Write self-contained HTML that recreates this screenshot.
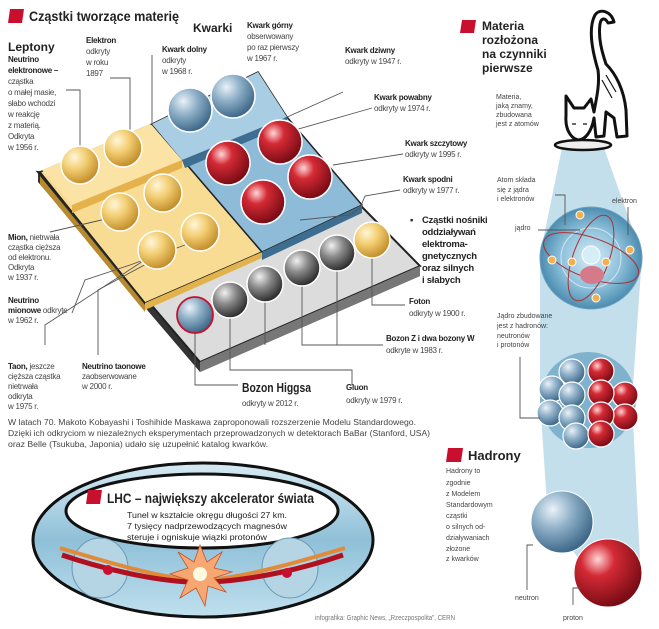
<!DOCTYPE html>
<html><head><meta charset="utf-8"><style>
html,body{margin:0;padding:0;background:#fff;width:659px;height:629px;overflow:hidden}
svg{display:block;font-family:"Liberation Sans",sans-serif}
.b{font-weight:bold;fill:#222}
.t{fill:#444}
.l{stroke:#555;stroke-width:0.9;fill:none}
.sm{letter-spacing:-0.25px}
</style></head><body>
<svg width="659" height="629" viewBox="0 0 659 629" xmlns="http://www.w3.org/2000/svg">
<defs>
<radialGradient id="gy" cx="35%" cy="30%" r="70%"><stop offset="0" stop-color="#fff6d8"/><stop offset="0.45" stop-color="#f3cf74"/><stop offset="1" stop-color="#c48f2c"/></radialGradient>
<radialGradient id="gb" cx="35%" cy="30%" r="70%"><stop offset="0" stop-color="#eaf2f8"/><stop offset="0.45" stop-color="#8fb0c8"/><stop offset="1" stop-color="#3f6a8a"/></radialGradient>
<radialGradient id="gr" cx="35%" cy="30%" r="70%"><stop offset="0" stop-color="#ffd6d6"/><stop offset="0.35" stop-color="#d42a35"/><stop offset="1" stop-color="#7a0c15"/></radialGradient>
<radialGradient id="gg" cx="35%" cy="30%" r="70%"><stop offset="0" stop-color="#f0f0f0"/><stop offset="0.45" stop-color="#8a8a8a"/><stop offset="1" stop-color="#2e2e2e"/></radialGradient>
<radialGradient id="ga" cx="50%" cy="50%" r="50%"><stop offset="0" stop-color="#d8ecf5"/><stop offset="0.6" stop-color="#8cc0da"/><stop offset="1" stop-color="#4c8cb0"/></radialGradient>
<linearGradient id="ring" x1="0" y1="0" x2="0" y2="1"><stop offset="0" stop-color="#d6eaf4"/><stop offset="0.5" stop-color="#8fc0d8"/><stop offset="1" stop-color="#bfe0ee"/></linearGradient>
</defs>

<path d="M10,9 L24,9 L22,23 L8,23 Z" fill="#c8102e"/>
<text x="29" y="21" class="b" font-size="14" textLength="150" lengthAdjust="spacingAndGlyphs">Cząstki tworzące  materię</text>

<polygon points="38,182 200,372 420,276 420,266 200,362 38,172" fill="#333"/>
<polygon points="38,172 200,362 420,266 362,207" fill="#dcdcdc" stroke="#222" stroke-width="2"/>
<polygon points="200,362 420,266 420,276 200,372" fill="#777"/>
<polygon points="40,176 145,305 145,312 40,184" fill="#b78a2e"/>
<polygon points="40,172 152,124 262,252 145,303" fill="#f9dc93" stroke="#222" stroke-width="1.5"/>
<polygon points="145,303 262,252 262,258 145,310" fill="#e2b24c"/>
<polygon points="42,170 150,124 182,160 72,205" fill="#fae3a5"/>
<polygon points="72,205 182,160 182,168 72,213" fill="#e5b14a"/>
<polygon points="152,124 258,72 287,117 362,205 262,252" fill="#8ebcd8" stroke="#222" stroke-width="1.5"/>
<polygon points="262,252 362,205 362,213 262,260" fill="#3d6d90"/>
<polygon points="152,124 258,72 287,117 182,160" fill="#a9cde2"/>
<polygon points="182,160 287,117 287,125 185,168" fill="#3d6d90"/>

<path class="l" d="M66,90 L80,90 L80,150"/>
<path class="l" d="M110,78 L130,78 L130,130"/>
<path class="l" d="M152,55 L152,125"/>
<path class="l" d="M285,118 L343,92"/>
<path class="l" d="M295,130 L372,108"/>
<path class="l" d="M333,165 L403,154"/>
<path class="l" d="M300,220 L350,215 L360,208 L365,196 L400,190"/>
<path class="l" d="M50,232 L110,218"/>
<path class="l" d="M72,313 L85,280 L130,265 L185,245"/>
<path class="l" d="M45,345 L45,325 L160,250"/>
<path class="l" d="M98,355 L98,290 L150,262"/>
<path class="l" d="M372,258 L372,305 L405,305"/>
<path class="l" d="M302,268 L302,345 L383,345"/>
<path class="l" d="M337,253 L337,345"/>
<path class="l" d="M265,283 L265,345"/>
<path class="l" d="M230,300 L230,370 L352,370 L352,385"/>
<path class="l" d="M195,315 L195,385 L238,385"/>

<g stroke="#fff" stroke-width="1.5">
<circle cx="80" cy="165" r="19" fill="url(#gy)"/>
<circle cx="123" cy="148" r="19" fill="url(#gy)"/>
<circle cx="120" cy="212" r="19" fill="url(#gy)"/>
<circle cx="163" cy="193" r="19" fill="url(#gy)"/>
<circle cx="157" cy="250" r="19" fill="url(#gy)"/>
<circle cx="200" cy="232" r="19" fill="url(#gy)"/>
<circle cx="190" cy="110" r="22" fill="url(#gb)"/>
<circle cx="233" cy="96" r="22" fill="url(#gb)"/>
<circle cx="280" cy="142" r="22" fill="url(#gr)"/>
<circle cx="228" cy="163" r="22" fill="url(#gr)"/>
<circle cx="310" cy="177" r="22" fill="url(#gr)"/>
<circle cx="263" cy="202" r="22" fill="url(#gr)"/>
<circle cx="230" cy="300" r="18" fill="url(#gg)"/>
<circle cx="265" cy="284" r="18" fill="url(#gg)"/>
<circle cx="302" cy="268" r="18" fill="url(#gg)"/>
<circle cx="337" cy="253" r="18" fill="url(#gg)"/>
<circle cx="372" cy="240" r="18" fill="url(#gy)"/>
</g>
<circle cx="195" cy="315" r="18" fill="url(#gb)" stroke="#c8102e" stroke-width="1.8"/>

<text x="8" y="51" class="b" font-size="12">Leptony</text>
<g font-size="8" class="sm">
<text x="8" y="62" class="b">Neutrino</text>
<text x="8" y="73" class="b">elektronowe –</text>
<text x="8" y="84" class="t">cząstka</text>
<text x="8" y="95" class="t">o małej masie,</text>
<text x="8" y="106" class="t">słabo wchodzi</text>
<text x="8" y="117" class="t">w reakcję</text>
<text x="8" y="128" class="t">z materią.</text>
<text x="8" y="139" class="t">Odkryta</text>
<text x="8" y="150" class="t">w 1956 r.</text>

<text x="86" y="43" class="b">Elektron</text>
<text x="86" y="54" class="t">odkryty</text>
<text x="86" y="65" class="t">w roku</text>
<text x="86" y="76" class="t">1897</text>

<text x="162" y="52" class="b">Kwark dolny</text>
<text x="162" y="63" class="t">odkryty</text>
<text x="162" y="74" class="t">w 1968 r.</text>

<text x="247" y="28" class="b">Kwark górny</text>
<text x="247" y="39" class="t">obserwowany</text>
<text x="247" y="50" class="t">po raz pierwszy</text>
<text x="247" y="61" class="t">w 1967 r.</text>

<text x="345" y="53" class="b">Kwark dziwny</text>
<text x="345" y="64" class="t">odkryty w 1947 r.</text>
<text x="374" y="100" class="b">Kwark powabny</text>
<text x="374" y="111" class="t">odkryty w 1974 r.</text>
<text x="405" y="146" class="b">Kwark szczytowy</text>
<text x="405" y="157" class="t">odkryty w 1995 r.</text>
<text x="403" y="182" class="b">Kwark spodni</text>
<text x="403" y="193" class="t">odkryty w 1977 r.</text>

<text x="8" y="240" class="b">Mion,<tspan class="t" font-weight="normal"> nietrwała</tspan></text>
<text x="8" y="250" class="t">cząstka cięższa</text>
<text x="8" y="260" class="t">od elektronu.</text>
<text x="8" y="270" class="t">Odkryta</text>
<text x="8" y="280" class="t">w 1937 r.</text>

<text x="8" y="303" class="b">Neutrino</text>
<text x="8" y="313" class="b">mionowe<tspan class="t" font-weight="normal"> odkryte</tspan></text>
<text x="8" y="323" class="t">w 1962 r.</text>

<text x="8" y="369" class="b">Taon,<tspan class="t" font-weight="normal"> jeszcze</tspan></text>
<text x="8" y="379" class="t">cięższa cząstka</text>
<text x="8" y="389" class="t">nietrwała</text>
<text x="8" y="399" class="t">odkryta</text>
<text x="8" y="409" class="t">w 1975 r.</text>

<text x="82" y="369" class="b">Neutrino taonowe</text>
<text x="82" y="379" class="t">zaobserwowane</text>
<text x="82" y="389" class="t">w 2000 r.</text>

<text x="409" y="304" class="b">Foton</text>
<text x="409" y="316" class="t">odkryty w 1900 r.</text>
<text x="386" y="341" class="b">Bozon  Z i dwa bozony W</text>
<text x="386" y="353" class="t">odkryte w 1983 r.</text>
<text x="346" y="390" class="b">Gluon</text>
<text x="346" y="403" class="t">odkryty w 1979 r.</text>
<text x="242" y="406" class="t">odkryty w  2012 r.</text>
</g>
<text x="242" y="392" class="b" font-size="13" textLength="69" lengthAdjust="spacingAndGlyphs">Bozon Higgsa</text>
<g font-size="9.5" class="b sm">
<text x="410" y="223">▪</text>
<text x="422" y="223">Cząstki nośniki</text>
<text x="422" y="235">oddziaływań</text>
<text x="422" y="247">elektroma-</text>
<text x="422" y="259">gnetycznych</text>
<text x="422" y="271">oraz silnych</text>
<text x="422" y="283">i słabych</text>
</g>
<text x="193" y="32" class="b" font-size="12">Kwarki</text>

<g font-size="8" class="t">
<text x="8" y="425" textLength="408" lengthAdjust="spacingAndGlyphs">W latach 70. Makoto Kobayashi i Toshihide Maskawa zaproponowali rozszerzenie Modelu Standardowego.</text>
<text x="8" y="436" textLength="422" lengthAdjust="spacingAndGlyphs">Dzięki ich odkryciom w niezależnych eksperymentach przeprowadzonych w detektorach BaBar (Stanford, USA)</text>
<text x="8" y="447" textLength="260" lengthAdjust="spacingAndGlyphs">oraz Belle (Tsukuba, Japonia) udało się  uzupełnić  katalog kwarków.</text>
</g>

<polygon points="562,148 604,148 642,255 632,400 640,560 600,585 548,520 540,400 540,255" fill="#c4dfec"/>
<path d="M566,96 L574,108 L584,108 L591,99 L594,112 C596,100 600,85 598,70 C592,50 588,28 595,15 C600,8 611,11 614,22 L608,23 C605,17 601,18 600,24 C598,38 602,52 606,64 C616,74 624,90 626,110 L627,136 L617,137 L614,118 L606,112 L604,136 L596,137 L594,118 C592,130 586,140 578,140 C570,138 565,128 566,116 Z" fill="#fff" stroke="#111" stroke-width="3" stroke-linejoin="round"/>
<path d="M572,124 L576,124 M583,124 L587,124 M602,80 L612,98 M606,75 L616,92" stroke="#111" stroke-width="1.2" fill="none"/>
<ellipse cx="583" cy="145" rx="28" ry="5" fill="#eee" stroke="#111" stroke-width="2.5"/>

<path d="M462,20 L476,20 L474,33 L460,33 Z" fill="#c8102e"/>
<g class="b" font-size="12">
<text x="482" y="30">Materia</text>
<text x="482" y="44">rozłożona</text>
<text x="482" y="58">na czynniki</text>
<text x="482" y="72">pierwsze</text>
</g>
<g font-size="7" class="t">
<text x="496" y="99">Materia,</text>
<text x="496" y="108">jaką znamy,</text>
<text x="496" y="117">zbudowana</text>
<text x="496" y="126">jest z atomów</text>
<text x="497" y="182">Atom składa</text>
<text x="497" y="192">się z jądra</text>
<text x="497" y="201">i elektronów</text>
<text x="612" y="203">elektron</text>
<text x="515" y="230">jądro</text>
<text x="497" y="318">Jądro zbudowane</text>
<text x="497" y="328">jest z hadronów:</text>
<text x="497" y="338">neutronów</text>
<text x="497" y="347">i protonów</text>
<text x="446" y="473">Hadrony to</text>
<text x="446" y="485">zgodnie</text>
<text x="446" y="496">z Modelem</text>
<text x="446" y="507">Standardowym</text>
<text x="446" y="518">cząstki</text>
<text x="446" y="529">o silnych od-</text>
<text x="446" y="540">działywaniach</text>
<text x="446" y="551">złożone</text>
<text x="446" y="561">z kwarków</text>
<text x="515" y="600">neutron</text>
<text x="563" y="620">proton</text>
</g>

<circle cx="591" cy="258" r="51" fill="url(#ga)" stroke="#6aa2c0"/>
<circle cx="591" cy="258" r="30" fill="none" stroke="#cfe6f1" stroke-width="1"/>
<ellipse cx="591" cy="258" rx="50" ry="20" fill="none" stroke="#a33" stroke-width="1" transform="rotate(20 591 258)"/>
<ellipse cx="591" cy="258" rx="45" ry="18" fill="none" stroke="#a33" stroke-width="1" transform="rotate(-70 591 258)"/>
<ellipse cx="592" cy="275" rx="12" ry="9" fill="#d47a8a"/>
<circle cx="591" cy="255" r="9" fill="#d6eef7" stroke="#fff"/>
<g fill="#f0b050" stroke="#fff"><circle cx="580" cy="215" r="4"/><circle cx="630" cy="250" r="4"/><circle cx="552" cy="260" r="4"/><circle cx="572" cy="262" r="4"/><circle cx="606" cy="262" r="4"/><circle cx="596" cy="298" r="4"/></g>
<path class="l" d="M555,195 L565,195 L565,225 M628,207 L628,235 M538,230 L580,230"/>

<circle cx="588" cy="400" r="48" fill="#7fb2cc"/>
<g stroke="#fff" stroke-width="1.2">
<circle cx="572" cy="372" r="13" fill="url(#gb)"/>
<circle cx="552" cy="389" r="13" fill="url(#gb)"/>
<circle cx="550" cy="413" r="13" fill="url(#gb)"/>
<circle cx="572" cy="395" r="13" fill="url(#gb)"/>
<circle cx="572" cy="418" r="13" fill="url(#gb)"/>
<circle cx="576" cy="436" r="13" fill="url(#gb)"/>
<circle cx="625" cy="395" r="13" fill="url(#gr)"/>
<circle cx="625" cy="417" r="13" fill="url(#gr)"/>
<circle cx="601" cy="371" r="13" fill="url(#gr)"/>
<circle cx="601" cy="393" r="13" fill="url(#gr)"/>
<circle cx="601" cy="415" r="13" fill="url(#gr)"/>
<circle cx="601" cy="434" r="13" fill="url(#gr)"/>
</g>
<path class="l" d="M520,357 L520,418 L540,418"/>

<circle cx="562" cy="522" r="31" fill="url(#gb)" stroke="#fff"/>
<circle cx="608" cy="573" r="34" fill="url(#gr)" stroke="#fff"/>
<path class="l" d="M527,590 L527,545 L533,545 M573,605 L573,588 L580,588"/>

<path d="M448,448 L463,448 L461,462 L446,462 Z" fill="#c8102e"/>
<text x="468" y="460" class="b" font-size="13">Hadrony</text>

<ellipse cx="203" cy="540" rx="170" ry="77" fill="url(#ring)" stroke="#111" stroke-width="3"/>
<ellipse cx="202" cy="511" rx="136" ry="37" fill="#fff" stroke="#111" stroke-width="3"/>
<ellipse cx="100" cy="568" rx="28" ry="30" fill="#b5d4e4" stroke="#6a9ab4"/>
<ellipse cx="290" cy="568" rx="28" ry="30" fill="#b5d4e4" stroke="#6a9ab4"/>
<path d="M60,548 C100,560 150,575 190,580" stroke="#e08a3a" stroke-width="4" fill="none"/>
<path d="M62,555 C100,568 150,580 190,582" stroke="#b01020" stroke-width="5" fill="none"/>
<path d="M345,548 C305,560 255,575 210,580" stroke="#e08a3a" stroke-width="4" fill="none"/>
<path d="M343,555 C305,568 255,580 210,582" stroke="#b01020" stroke-width="5" fill="none"/>
<circle cx="108" cy="570" r="5" fill="#c8102e"/>
<circle cx="287" cy="573" r="5" fill="#c8102e"/>
<polygon points="200,545 207,562 222,552 214,568 232,572 214,578 226,592 208,586 205,606 196,588 180,598 188,580 170,574 188,568 178,552 194,562" fill="#f7a872" stroke="#c8502a" stroke-width="0.8"/>
<circle cx="200" cy="574" r="7" fill="#fffbe0"/>
<path d="M88,490 L102,490 L100,504 L86,504 Z" fill="#c8102e"/>
<text x="107" y="503" class="b" font-size="14" textLength="207" lengthAdjust="spacingAndGlyphs">LHC – największy akcelerator świata</text>
<g font-size="8.5" fill="#222">
<text x="127" y="518" textLength="160" lengthAdjust="spacingAndGlyphs">Tunel w kształcie okręgu długości 27 km.</text>
<text x="127" y="529" textLength="160" lengthAdjust="spacingAndGlyphs">7 tysięcy nadprzewodzących magnesów</text>
<text x="127" y="540" textLength="140" lengthAdjust="spacingAndGlyphs">steruje i ogniskuje wiązki protonów</text>
</g>
<text x="315" y="620" font-size="7" fill="#777" textLength="140" lengthAdjust="spacingAndGlyphs">infografika: Graphic News, „Rzeczpospolita”, CERN</text>
</svg>
</body></html>
